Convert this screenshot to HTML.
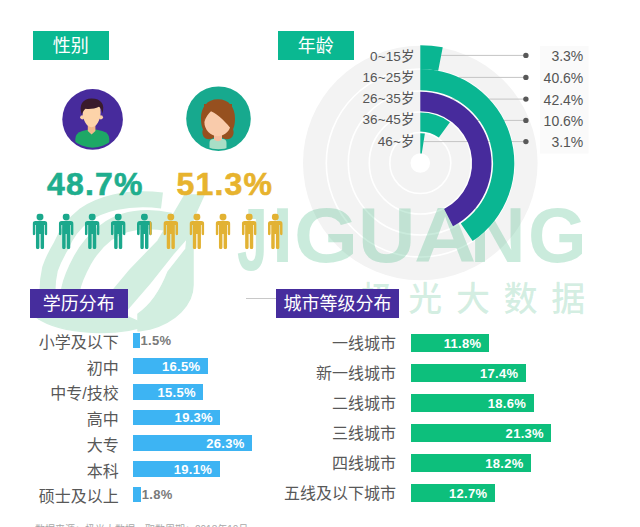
<!DOCTYPE html>
<html lang="zh"><head><meta charset="utf-8"><title>用户画像</title>
<style>
*{margin:0;padding:0;box-sizing:border-box}
html,body{width:640px;height:527px;overflow:hidden;background:#fff}
body{position:relative;font-family:"Liberation Sans","Noto Sans CJK SC",sans-serif;color:#4d4d4d}
.abs{position:absolute}
svg.full{position:absolute;left:0;top:0;width:640px;height:527px}
.tag{position:absolute;color:#fff;font-size:18px;line-height:31.4px;text-align:center;height:29px;white-space:nowrap}
.teal{background:#0ab891} .pur{background:#462d9d}
.wm1{position:absolute;left:0;top:194.8px;font-size:77.5px;line-height:80px;height:80px;font-weight:bold;color:rgba(60,180,125,.27);white-space:nowrap}
.wm1 span{display:inline-block;transform-origin:0 13.5px}
.wm2{position:absolute;left:360.5px;top:276.5px;font-size:34px;font-weight:500;line-height:44px;color:rgba(60,180,125,.22);letter-spacing:13.7px;white-space:nowrap}
.big{position:absolute;top:163.6px;font-size:32px;line-height:40px;font-weight:bold;letter-spacing:1.2px;-webkit-text-stroke:.6px currentColor;white-space:nowrap}
.al{position:absolute;right:225.5px;width:80px;text-align:right;font-size:13.5px;letter-spacing:.1px;line-height:18px;color:#555;white-space:nowrap}
.av{position:absolute;right:56.7px;width:60px;text-align:right;font-size:14px;line-height:18px;color:#555;white-space:nowrap}
.el{position:absolute;right:521.2px;width:110px;text-align:right;font-size:16px;line-height:22px;color:#585858;white-space:nowrap}
.eb{position:absolute;left:133.3px;height:15.8px;background:#3db4f3;text-align:right;color:#fff;font-weight:bold;font-size:13px;line-height:15.8px;letter-spacing:.3px;white-space:nowrap}
.eb span{padding-right:7.5px;position:relative;top:.9px}
.ev{position:absolute;color:#7a7a7a;font-weight:bold;font-size:13px;line-height:15.8px;letter-spacing:.3px}
.cl{position:absolute;right:244px;width:130px;text-align:right;font-size:16px;line-height:22px;color:#585858;white-space:nowrap}
.cb{position:absolute;left:411.3px;height:18.3px;background:#0dbf7c;text-align:right;color:#fff;font-weight:bold;font-size:13px;line-height:18.3px;letter-spacing:.3px;white-space:nowrap}
.cb span{padding-right:7.5px;position:relative;top:.9px}
.foot{position:absolute;left:35px;top:523px;font-size:10px;line-height:14px;color:#a8a8a8;white-space:nowrap}
</style></head><body>
<!-- background disc and logo watermark -->
<svg class="full" viewBox="0 0 640 527">
<circle cx="420.3" cy="163.0" r="117.3" fill="#f3f3f3"/>
<g fill="none" stroke="#fff" stroke-width="1.6"><circle cx="420.3" cy="163.0" r="94"/><circle cx="420.3" cy="163.0" r="72"/><circle cx="420.3" cy="163.0" r="51"/><circle cx="420.3" cy="163.0" r="30.5"/></g>
<circle cx="420.3" cy="163.0" r="9.8" fill="#fff"/>
<g fill="none" stroke="#d2eee0" stroke-linecap="butt">
<path d="M162,200.500 C125,196 99,205 84.500,215 C73,224 65.500,235 61,246 C55,256 52,263 50,269 C48,278 47.500,285 47.500,290 L46,320" stroke-width="16"/>
<path d="M170,222 C140,216 120,222 106,232.500 C95,241 88,250 82.500,260 C76,272 72,282 70.500,290 L69,320" stroke-width="19"/>
</g>
<g fill="#d2eee0" stroke="#d2eee0" stroke-width="1.5" stroke-linejoin="round">
<path d="M36,317 L128,317 L146,325 C122,336 62,336 36,317 Z"/>
<path d="M185,195 L204,195 L193,219 L187,238 L173,254 L150,283 L125,312 L112,325 L88,322 L105,300 L130,270 L158,241 Z"/>
<path d="M193,219 L193,285 C193,305 175,322 150,329 L138,331 L138,314 C150,306 161,290 168,272 L186,249 L187,238 Z"/>
</g>
</svg>
<div class="wm1"><span style="margin-left:237.00px;transform:scale(0.708,1.15)">J</span><span style="margin-left:-8.30px;transform:scale(0.976,1)">I</span><span style="margin-left:0.47px;transform:scale(1.063,1)">G</span><span style="margin-left:3.92px;transform:scale(1.026,1)">U</span><span style="margin-left:-0.47px;transform:scale(1.112,1)">A</span><span style="margin-left:0.33px;transform:scale(0.994,1)">N</span><span style="margin-left:2.43px;transform:scale(0.974,1)">G</span></div>
<div class="wm2">极光大数据</div>


<div class="tag teal" style="left:32.5px;top:30.8px;width:76.3px">性别</div>
<div class="tag teal" style="left:277.5px;top:30.8px;width:76.3px">年龄</div>
<div class="tag pur" style="left:30px;top:288.8px;width:97.5px">学历分布</div>
<div class="tag pur" style="left:275.6px;top:289.2px;width:123.8px;height:28.5px">城市等级分布</div>
<div class="abs" style="left:245.6px;top:298.3px;width:30px;height:1px;background:#c8c8c8"></div>

<svg class="full" viewBox="0 0 640 527">
<rect x="540" y="46" width="48.500" height="107.500" fill="#fafafa"/>
<defs><symbol id="p" viewBox="0 0 15 36.2"><circle cx="7.5" cy="3.5" r="3.5"/><path d="M3,7.6 h9 a3,3 0 0 1 3,3 v10 a1.35,1.35 0 0 1 -2.7,0 v-9 h-0.7 v22.800 a1.75,1.75 0 0 1 -3.5,0 v-13.500 h-1.2 v13.500 a1.75,1.75 0 0 1 -3.5,0 v-22.800 h-0.7 v9 a1.35,1.35 0 0 1 -2.7,0 v-10 a3,3 0 0 1 3,-3 z"/></symbol>
<clipPath id="cm"><circle cx="92.6" cy="119.4" r="28.3"/></clipPath>
<clipPath id="cf"><circle cx="218.5" cy="118.7" r="30.6"/></clipPath>
</defs>
<!-- male avatar -->
<circle cx="92.600" cy="119.400" r="30.300" fill="#472b9c"/>
<g clip-path="url(#cm)">
<path d="M75.3,152 v-13 q0,-6 7,-8 l6.5,-1.500 h7 l6.5,1.500 q7,2 7,8 v13 z" fill="#1da866"/>
<path d="M87.8,124 h7.6 v7 l-3.8,3.6 l-3.8,-3.6 z" fill="#f2b88b"/>
<circle cx="82.300" cy="117.300" r="2.100" fill="#fbd0a6"/><circle cx="100.900" cy="117.300" r="2.100" fill="#fbd0a6"/>
<path d="M82.6,112 c0,-8 4,-11 9,-11 c5,0 9,3 9,11 c0,8 -4,15.2 -9,15.2 c-5,0 -9,-7.2 -9,-15.2 z" fill="#fdd3a9"/>
<path d="M81.800,115 C78.500,105 82.500,98.600 91.500,98.500 C101,98.400 105.500,104.500 102.300,113.500 C101.800,110 100.800,108 99,106.800 C95,108.800 89.500,109.500 85.500,108.800 C83.700,110.500 82.500,112.500 81.800,115 z" fill="#3a1b2c"/>
</g>
<!-- female avatar -->
<circle cx="218.500" cy="118.700" r="32.300" fill="#17a98e"/>
<g clip-path="url(#cf)">
<path d="M218,99.300 c11,0 17,8 17,19 c0,6 -1,9 -2,11 c2,5 -1,10 -6,10 c-5,0 -6,-4 -9,-4 c-3,0 -4,4 -9,4 c-5,0 -8,-5 -6,-10 c-1,-2 -2,-5 -2,-11 c0,-11 6,-19 17,-19 z" fill="#96501f"/>
<path d="M209.500,152 v-9 a4,4 0 0 1 4,-4 h9 a4,4 0 0 1 4,4 v9 z" fill="#a9dec6"/>
<path d="M214,133 h8 v6.5 q-4,3.500 -8,0 z" fill="#f5bda0"/>
<ellipse cx="217.800" cy="122" rx="13.400" ry="14.200" fill="#f9cbab"/>
<path d="M204.300,122 L204,104 L232,104 L232,130 C227,123.500 219,115 211,111.300 C208.500,113.500 205.500,117.500 204.300,122 z" fill="#96501f"/>
</g>
<!-- people -->
<use href="#p" x="32.6" y="213.5" width="14.8" height="35.7" fill="#1ba88c"/>
<use href="#p" x="58.8" y="213.5" width="14.8" height="35.7" fill="#1ba88c"/>
<use href="#p" x="84.8" y="213.5" width="14.8" height="35.7" fill="#1ba88c"/>
<use href="#p" x="110.8" y="213.5" width="14.8" height="35.7" fill="#1ba88c"/>
<use href="#p" x="137.0" y="213.5" width="14.8" height="35.7" fill="#1ba88c"/>
<use href="#p" x="163.4" y="213.5" width="14.8" height="35.7" fill="#e2b233"/>
<use href="#p" x="189.5" y="213.5" width="14.8" height="35.7" fill="#e2b233"/>
<use href="#p" x="215.6" y="213.5" width="14.8" height="35.7" fill="#e2b233"/>
<use href="#p" x="241.8" y="213.5" width="14.8" height="35.7" fill="#e2b233"/>
<use href="#p" x="267.9" y="213.5" width="14.8" height="35.7" fill="#e2b233"/>
<clipPath id="c5"><rect x="149.8" y="210" width="5" height="40"/></clipPath><g clip-path="url(#c5)"><use href="#p" x="137.0" y="213.5" width="14.8" height="35.7" fill="#e2b233"/></g>

<!-- radial -->
<line x1="441.2" y1="55.4" x2="525.9" y2="55.4" stroke="#c4c4c4" stroke-width="1"/>
<circle cx="525.9" cy="55.4" r="2.7" fill="#585858"/>
<line x1="459.1" y1="77.4" x2="525.9" y2="77.4" stroke="#c4c4c4" stroke-width="1"/>
<circle cx="525.9" cy="77.4" r="2.7" fill="#585858"/>
<line x1="451.7" y1="99.1" x2="525.9" y2="99.1" stroke="#c4c4c4" stroke-width="1"/>
<circle cx="525.9" cy="99.1" r="2.7" fill="#585858"/>
<line x1="451.3" y1="120.4" x2="525.9" y2="120.4" stroke="#c4c4c4" stroke-width="1"/>
<circle cx="525.9" cy="120.4" r="2.7" fill="#585858"/>
<line x1="423.6" y1="141.6" x2="525.9" y2="141.6" stroke="#c4c4c4" stroke-width="1"/>
<circle cx="525.9" cy="141.6" r="2.7" fill="#585858"/>

<path d="M420.30,45.20 A117.8,117.8 0 0 1 442.74,47.36 L438.20,70.72 A94,94 0 0 0 420.30,69.00 Z" fill="#0ab692"/>
<path d="M420.30,69.00 A94,94 0 0 1 472.65,241.08 L460.84,223.47 A72.8,72.8 0 0 0 420.30,90.20 Z" fill="#0ab692"/>
<path d="M420.30,91.80 A71.2,71.2 0 0 1 453.02,226.24 L444.11,209.01 A51.8,51.8 0 0 0 420.30,111.20 Z" fill="#472b9c"/>
<path d="M420.30,112.60 A50.4,50.4 0 0 1 449.92,122.23 L438.82,137.52 A31.5,31.5 0 0 0 420.30,131.50 Z" fill="#0ab692"/>
<path d="M420.30,133.20 A29.8,29.8 0 0 1 424.87,133.55 L421.76,153.61 A9.5,9.5 0 0 0 420.30,153.50 Z" fill="#0ab692"/>
</svg>
<div class="big" style="left:47px;color:#1fae8e">48.7%</div>
<div class="big" style="left:176.5px;color:#e7b32e">51.3%</div>
<div class="al" style="top:47.5px">0~15岁</div><div class="av" style="top:46.9px">3.3%</div>
<div class="al" style="top:68.7px">16~25岁</div><div class="av" style="top:68.9px">40.6%</div>
<div class="al" style="top:89.9px">26~35岁</div><div class="av" style="top:90.6px">42.4%</div>
<div class="al" style="top:111.3px">36~45岁</div><div class="av" style="top:111.9px">10.6%</div>
<div class="al" style="top:132.5px">46~岁</div><div class="av" style="top:133.1px">3.1%</div>

<div class="el" style="top:332.0px">小学及以下</div><div class="eb" style="top:332.5px;width:6.8px"></div><div class="ev" style="top:333.2px;left:140.5px">1.5%</div>
<div class="el" style="top:357.7px">初中</div><div class="eb" style="top:358.2px;width:74.6px"><span>16.5%</span></div>
<div class="el" style="top:383.4px">中专/技校</div><div class="eb" style="top:383.9px;width:70.1px"><span>15.5%</span></div>
<div class="el" style="top:409.1px">高中</div><div class="eb" style="top:409.6px;width:87.2px"><span>19.3%</span></div>
<div class="el" style="top:434.8px">大专</div><div class="eb" style="top:435.3px;width:118.9px"><span>26.3%</span></div>
<div class="el" style="top:460.5px">本科</div><div class="eb" style="top:461.0px;width:86.3px"><span>19.1%</span></div>
<div class="el" style="top:486.2px">硕士及以上</div><div class="eb" style="top:486.7px;width:8.1px"></div><div class="ev" style="top:487.4px;left:141.8px">1.8%</div>

<div class="cl" style="top:333.2px">一线城市</div><div class="cb" style="top:333.7px;width:77.6px"><span>11.8%</span></div>
<div class="cl" style="top:363.2px">新一线城市</div><div class="cb" style="top:363.7px;width:114.5px"><span>17.4%</span></div>
<div class="cl" style="top:393.2px">二线城市</div><div class="cb" style="top:393.7px;width:122.4px"><span>18.6%</span></div>
<div class="cl" style="top:423.2px">三线城市</div><div class="cb" style="top:423.7px;width:140.2px"><span>21.3%</span></div>
<div class="cl" style="top:453.2px">四线城市</div><div class="cb" style="top:453.7px;width:119.8px"><span>18.2%</span></div>
<div class="cl" style="top:483.2px">五线及以下城市</div><div class="cb" style="top:483.7px;width:83.6px"><span>12.7%</span></div>

<div class="foot">数据来源：极光大数据，取数周期：2018年10月</div>
</body></html>
